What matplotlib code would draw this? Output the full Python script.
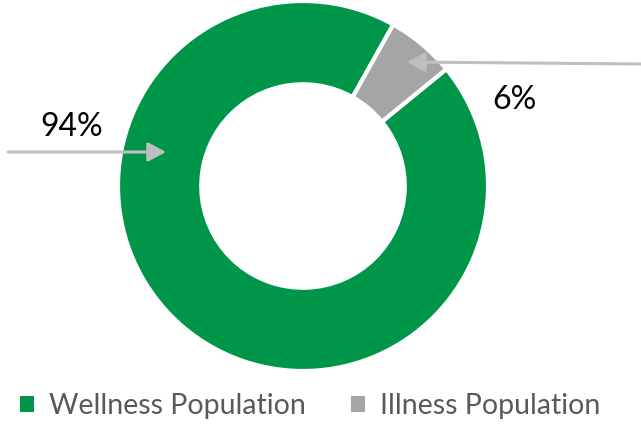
import matplotlib
matplotlib.use('AGG')
import matplotlib.pyplot as plt
from matplotlib.patches import Patch

labels = ['Wellness Population', 'Illness Population']
values = [94, 6]
colors = ['#009649', '#A5A5A5']
pct_text = ['94%', '6%']

plt.rcParams['font.family'] = ['Lato', 'DejaVu Sans']

W, H = 641, 432
fig = plt.figure(figsize=(W / 100, H / 100), dpi=100)

# donut: centre (303, 186) px, outer radius 185 px
cx, cy, r = 303, 186, 185
ax = fig.add_axes([(cx - r) / W, (H - cy - r) / H, 2 * r / W, 2 * r / H])
ax.pie(values, colors=colors, startangle=39.2, counterclock=False, radius=1,
       wedgeprops=dict(width=0.45, edgecolor='white', linewidth=3))
ax.set_xlim(-1, 1)
ax.set_ylim(-1, 1)
ax.axis('off')

def px(x, y):
    return (x / W, 1 - y / H)

arrow = dict(arrowstyle='-|>,head_length=0.54,head_width=0.29', color='#BFBFBF',
             lw=2.2, shrinkA=0, shrinkB=0, mutation_scale=20)

# percentage call-outs
fig.text(*px(72, 127), pct_text[0], fontsize=23, ha='center', va='center', color='black')
ax.annotate('', xy=px(166, 152), xytext=px(8, 152), xycoords='figure fraction',
            textcoords='figure fraction', arrowprops=arrow)

fig.text(*px(514, 100), pct_text[1], fontsize=23, ha='center', va='center', color='black')
ax.annotate('', xy=px(407, 62), xytext=px(641, 64), xycoords='figure fraction',
            textcoords='figure fraction', arrowprops=arrow)

handles = [Patch(facecolor=c, edgecolor='none') for c in colors]
fig.legend(handles, labels, loc='center', bbox_to_anchor=px(310, 406), ncol=2,
           frameon=False, fontsize=20.5, handlelength=0.5, handleheight=0.5,
           handletextpad=0.5, columnspacing=1.6, labelcolor='#595959')

fig.savefig('out.png', dpi=100)
